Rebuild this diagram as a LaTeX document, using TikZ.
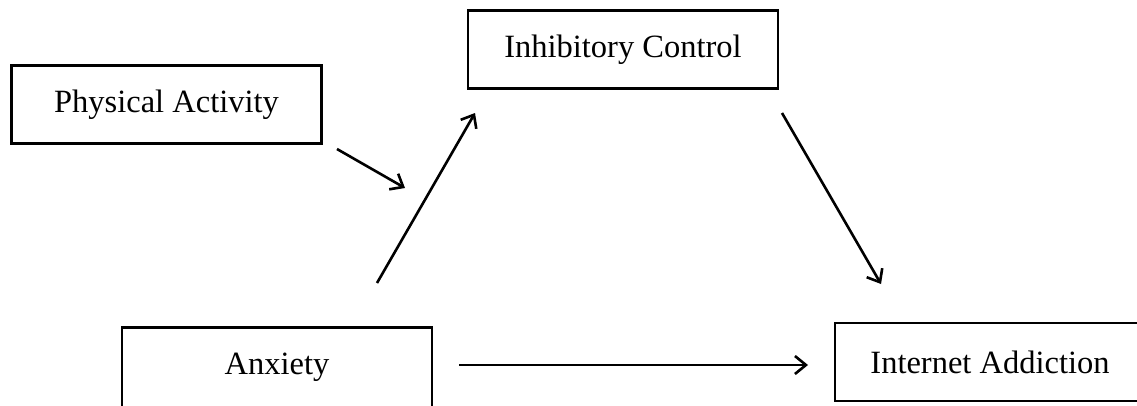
\documentclass[tikz,border=0pt]{standalone}
\usepackage{fontspec}
\setmainfont{Liberation Serif}
\usetikzlibrary{arrows.meta}
\begin{document}
\begin{tikzpicture}[x=1pt,y=-1pt,
  var/.style={draw, line width=2.5pt, minimum width=310pt, minimum height=78pt, inner sep=0pt, font=\fontsize{32.5}{38}\selectfont},
  conn/.style={line width=2.6pt, -{Straight Barb[length=11pt,width=18pt,line width=2.6pt]}}]
\useasboundingbox (0,0) rectangle (1137,405);
\node[var] (pa) at (166.5,104.5) {Physical Activity};
\node[var] (ic) at (623,49.5) {Inhibitory Control};
\node[var, minimum height=80pt] (anx) at (277,367.5) {\raisebox{1pt}{Anxiety}};
\node[var] (ia) at (990,362) {Internet Addiction};
\coordinate (paS) at (337,149);
\coordinate (paE) at (405,188);
\coordinate (axS) at (377,283);
\coordinate (axE) at (475,113);
\coordinate (icS) at (782,113);
\coordinate (icE) at (881,284);
\coordinate (dS) at (459,365);
\coordinate (dE) at (808,365);
\draw[conn] (paS) -- (paE);
\draw[conn] (axS) -- (axE);
\draw[conn] (icS) -- (icE);
\draw[conn] (dS) -- (dE);
\end{tikzpicture}
\end{document}
